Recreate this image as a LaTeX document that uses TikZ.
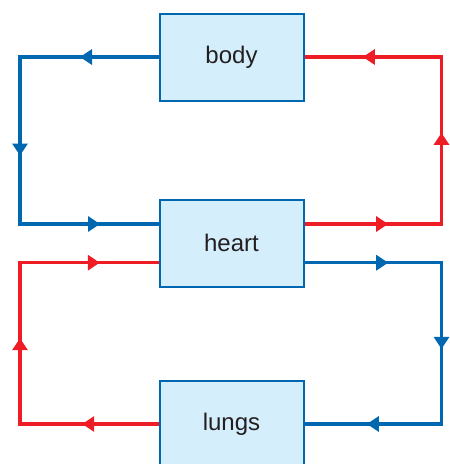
\documentclass[tikz,border=0pt]{standalone}
\usepackage{fontspec}
\setmainfont{Liberation Sans}
\usepackage{xcolor}
\usetikzlibrary{arrows.meta,decorations.markings}
\definecolor{vblue}{HTML}{0067B1}
\definecolor{vred}{HTML}{EE1C25}
\definecolor{organfill}{HTML}{D4EEFB}
\definecolor{ink}{HTML}{231F20}

\begin{document}
\begin{tikzpicture}[
  x=1pt, y=-1pt,
  >={Triangle[length=12pt,width=15pt]},
  organ/.style ={draw=vblue, fill=organfill, line width=2pt, inner sep=0pt,
                 minimum width=144pt, minimum height=87pt, text=ink,
                 font=\fontsize{24}{28}\selectfont},
  vessel/.style={line width=3.4pt, postaction={decorate}}
]
\useasboundingbox (0,0) rectangle (450,464);
\node[organ] (body)  at (231.5,57)  {body};
\node[organ] (heart) at (231.5,243) {heart};
\node[organ] (lungs) at (231.5,424) {lungs};
% corners of the two loops
\coordinate (bodyL)  at (20,57);    \coordinate (bodyR)  at (441.5,57);
\coordinate (heartLa) at (20,224);  \coordinate (heartRa) at (441.5,224);
\coordinate (heartLb) at (20,262.7);\coordinate (heartRb) at (441.5,262.7);
\coordinate (lungsL) at (20,424);   \coordinate (lungsR) at (441.5,424);
% body loop
\draw[vessel, color=vblue, decoration={markings,
        mark=at position 78.5pt with {\arrow{>}},
        mark=at position 237pt with {\arrow{>}},
        mark=at position 385.5pt with {\arrow{>}}}]
  (body.west) -- (bodyL) -- (heartLa) -- (heartLa -| heart.west);
\draw[vessel, color=vred, decoration={markings,
        mark=at position 83.7pt with {\arrow{>}},
        mark=at position 228.2pt with {\arrow{>}},
        mark=at position 382.7pt with {\arrow{>}}}]
  (heartRa -| heart.east) -- (heartRa) -- (bodyR) -- (body.east);
% lung loop
\draw[vessel, color=vred, decoration={markings,
        mark=at position 76.3pt with {\arrow{>}},
        mark=at position 224.3pt with {\arrow{>}},
        mark=at position 379.6pt with {\arrow{>}}}]
  (lungs.west) -- (lungsL) -- (heartLb) -- (heartLb -| heart.west);
\draw[vessel, color=vblue, decoration={markings,
        mark=at position 83.7pt with {\arrow{>}},
        mark=at position 223.2pt with {\arrow{>}},
        mark=at position 373pt with {\arrow{>}}}]
  (heartRb -| heart.east) -- (heartRb) -- (lungsR) -- (lungs.east);
\end{tikzpicture}
\end{document}
